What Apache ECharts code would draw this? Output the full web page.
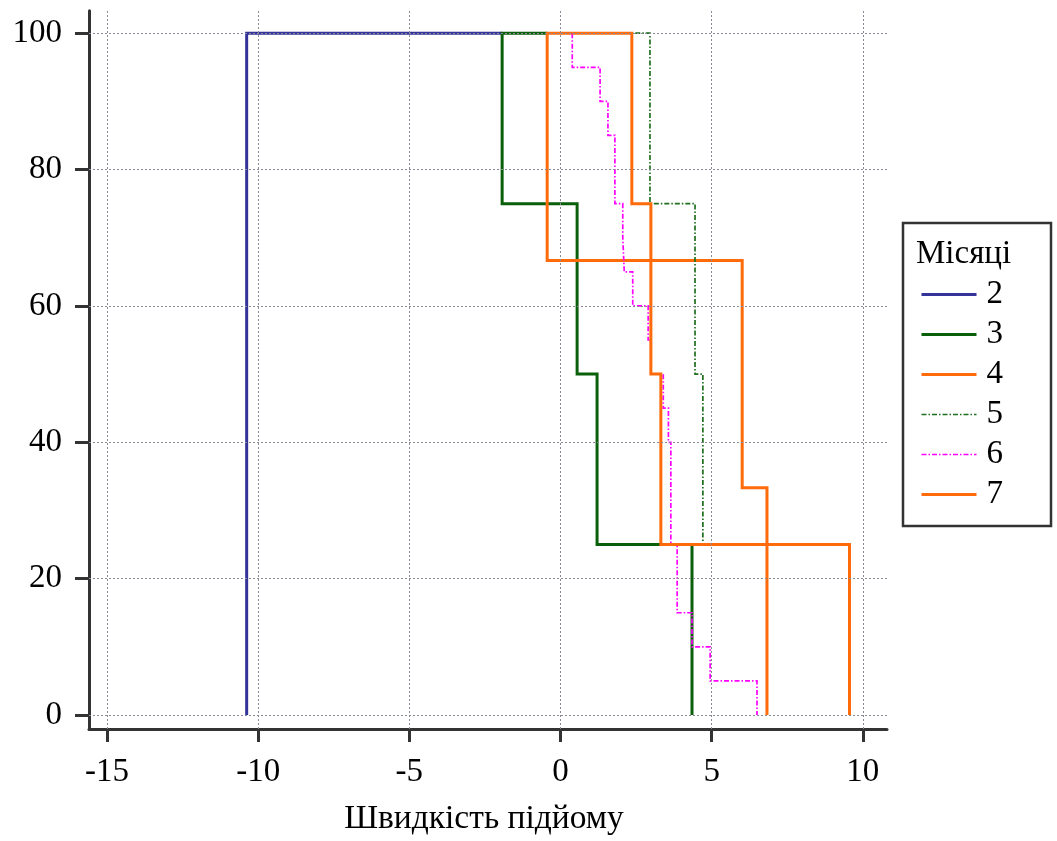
<!DOCTYPE html>
<html>
<head>
<meta charset="utf-8">
<script src="https://cdn.jsdelivr.net/npm/echarts@6/dist/echarts.min.js"></script>
<style>
html,body{margin:0;padding:0;background:#fff;}
#chart{width:1057px;height:841px;}
</style>
</head>
<body>
<div id="chart"></div>
<script>
// ---- data (observed values per month; curve = % of values not yet passed) ----
const seriesNames = ['2', '3', '4', '5', '6', '7'];
const month2 = [-10.38];
const month3 = [-1.93, 0.55, 1.21, 4.35];
const month4 = [-0.44, 6.01, 6.83];
const month5 = [2.96, 4.45, 4.71, 9.55];
const month6 = [0.39, 1.31, 1.57, 1.80, 1.80, 2.06, 2.11, 2.39, 2.90, 2.99, 3.40, 3.57, 3.65, 3.65, 3.65, 3.86, 3.86, 4.35, 4.95, 6.50];
const month7 = [2.36, 2.99, 3.32, 9.56];
// x where each curve's 100 % plateau starts
const plateauFrom = [-1.93, -0.44, 0.39, 0.39, 0.39, 0.39];
const xTicks = [-15, -10, -5, 0, 5, 10];
const yTicks = [0, 20, 40, 60, 80, 100];

const monthValues = [month2, month3, month4, month5, month6, month7];
const colors = ['#333399', '#0a5f0a', '#ff6a0a', '#1f6f1f', '#ff00ff', '#ff6a0a'];
const widths = [3, 3, 3, 1.7, 1.7, 3];
const dashDot = [5, 2, 1.5, 2];
const types = ['solid', 'solid', 'solid', dashDot, dashDot, 'solid'];

function stepPoints(vals, start) {
  const v = vals.slice().sort((a, b) => a - b);
  const n = v.length;
  const pts = [[start, 100], [v[0], 100]];
  for (let i = 0; i < n; i++) {
    const before = 100 * (n - i) / n;
    const after = 100 * (n - i - 1) / n;
    if (i > 0) pts.push([v[i], before]);
    pts.push([v[i], after]);
  }
  return pts;
}

const font = 'Liberation Serif';
const fs = 33;
const series = [{
  name: '_grid', type: 'line', data: [], z: 1, silent: true,
  markLine: {
    silent: true, symbol: 'none', animation: false,
    label: { show: false },
    lineStyle: { color: '#8a8a96', type: [2, 2], width: 1 },
    data: xTicks.map(v => ({ xAxis: v })).concat(yTicks.map(v => ({ yAxis: v })))
  }
}];
seriesNames.forEach((nm, i) => {
  series.push({
    name: nm, type: 'line', z: 2,
    data: stepPoints(monthValues[i], plateauFrom[i]),
    symbol: 'none', showSymbol: false,
    lineStyle: { color: colors[i], width: widths[i], type: types[i], cap: 'butt', join: 'miter' },
    itemStyle: { color: colors[i] }
  });
});

const chart = echarts.init(document.getElementById('chart'));
chart.setOption({
  animation: false,
  backgroundColor: '#fff',
  textStyle: { fontFamily: font, color: '#000' },
  title: {
    text: 'Місяці', left: 911, top: 233,
    textStyle: { fontFamily: font, fontSize: fs, fontWeight: 'normal', color: '#000' }
  },
  legend: {
    left: 903, top: 223, orient: 'vertical',
    padding: [55, 48, 15, 17],
    borderColor: '#333', borderWidth: 2.5,
    itemWidth: 55, itemHeight: 14, itemGap: 7,
    itemStyle: { opacity: 0 },
    textStyle: { fontFamily: font, fontSize: fs, color: '#000', lineHeight: 33, padding: [0, 0, 0, 5] },
    data: seriesNames.map((nm, i) => ({
      name: nm,
      itemStyle: { opacity: 0 },
      lineStyle: { color: colors[i], width: widths[i], type: types[i] }
    }))
  },
  grid: { left: 89, right: 170, top: 10.7, bottom: 110, containLabel: false },
  xAxis: {
    type: 'value', min: -15.595, max: 10.80,
    name: 'Швидкість підйому', nameLocation: 'middle', nameGap: 73,
    nameTextStyle: { fontFamily: font, fontSize: 33.5, color: '#000', padding: [0, 8, 0, 0] },
    axisLine: { show: true, onZero: false, lineStyle: { color: '#333', width: 3 } },
    axisTick: { show: true, length: 13, lineStyle: { color: '#333', width: 3 }, customValues: xTicks },
    axisLabel: { fontFamily: font, fontSize: fs, color: '#000', margin: 27, customValues: xTicks },
    splitLine: { show: false }
  },
  yAxis: {
    type: 'value', min: -2.05, max: 103.3,
    axisLine: { show: true, onZero: false, lineStyle: { color: '#333', width: 3 } },
    axisTick: { show: true, length: 14, lineStyle: { color: '#333', width: 3 }, customValues: yTicks },
    axisLabel: { fontFamily: font, fontSize: fs, color: '#000', margin: 27, customValues: yTicks },
    splitLine: { show: false }
  },
  series: series
});
</script>
</body>
</html>
